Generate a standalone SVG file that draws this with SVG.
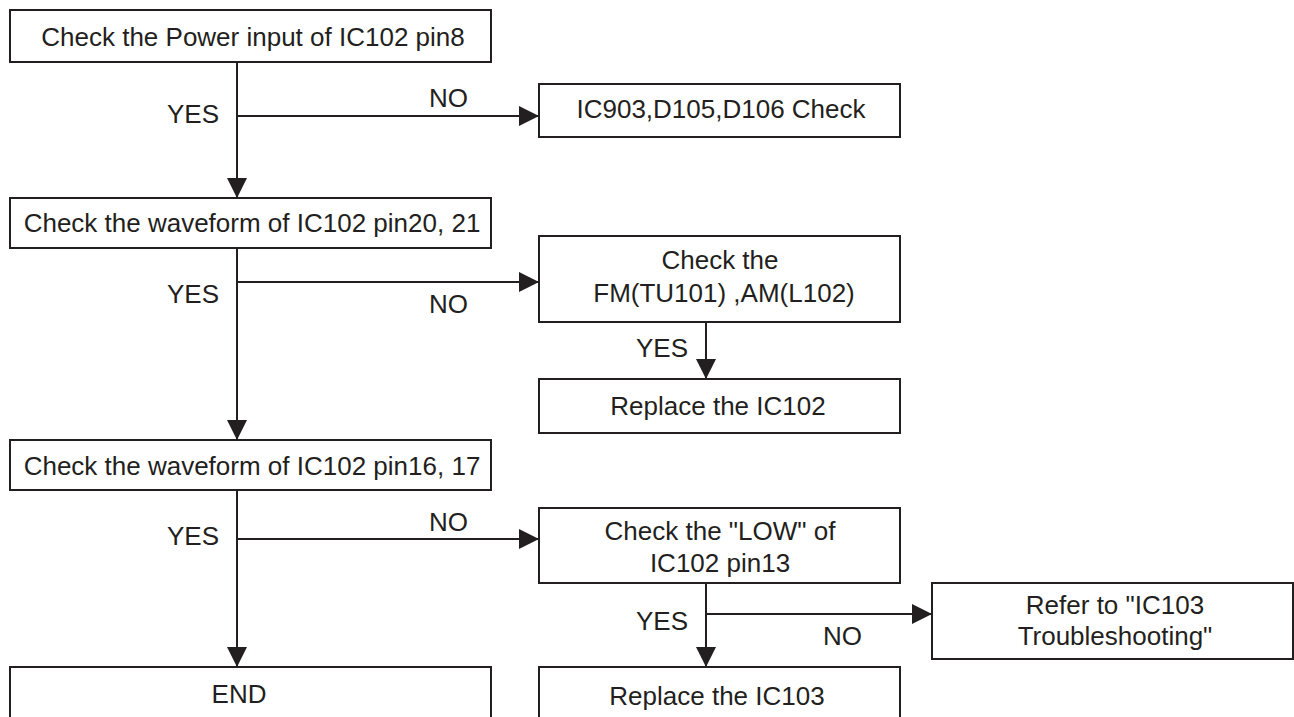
<svg xmlns="http://www.w3.org/2000/svg" width="1294" height="717" viewBox="0 0 1294 717">
<style>
  .box { fill: #ffffff; stroke: #231f20; stroke-width: 2; }
  .t { font-family: "Liberation Sans", Arial, sans-serif; font-size: 26px; fill: #231f20; }
  .c { text-anchor: middle; }
  .e { text-anchor: end; }
  .conn { stroke: #231f20; stroke-width: 2; fill: none; }
</style>
<defs>
  <marker id="arr" markerUnits="userSpaceOnUse" markerWidth="21" markerHeight="21" viewBox="0 0 21 21" refX="20" refY="10.5" orient="auto">
    <path d="M0,0.5 L20,10.5 L0,20.5 z" fill="#231f20"/>
  </marker>
</defs>
<rect width="1294" height="717" fill="#ffffff"/>

<g id="connectors">
  <line class="conn" x1="237" y1="62" x2="237" y2="198" marker-end="url(#arr)"/>
  <line class="conn" x1="237" y1="116" x2="539" y2="116" marker-end="url(#arr)"/>
  <line class="conn" x1="237" y1="248" x2="237" y2="440" marker-end="url(#arr)"/>
  <line class="conn" x1="237" y1="282" x2="539" y2="282" marker-end="url(#arr)"/>
  <line class="conn" x1="706" y1="322" x2="706" y2="379" marker-end="url(#arr)"/>
  <line class="conn" x1="237" y1="490" x2="237" y2="667" marker-end="url(#arr)"/>
  <line class="conn" x1="237" y1="539" x2="539" y2="539" marker-end="url(#arr)"/>
  <line class="conn" x1="706" y1="583" x2="706" y2="667" marker-end="url(#arr)"/>
  <line class="conn" x1="706" y1="614" x2="932" y2="614" marker-end="url(#arr)"/>
  <text class="t e" x="219" y="123">YES</text>
  <text class="t" x="429" y="107">NO</text>
  <text class="t e" x="219" y="303">YES</text>
  <text class="t" x="429" y="313">NO</text>
  <text class="t e" x="688" y="357">YES</text>
  <text class="t e" x="219" y="545">YES</text>
  <text class="t" x="429" y="531">NO</text>
  <text class="t e" x="688" y="630">YES</text>
  <text class="t" x="823" y="645">NO</text>
</g>

<g id="n1">
  <rect class="box" x="10" y="10" width="481" height="52"/>
  <text class="t c" x="253" y="46">Check the Power input of IC102 pin8</text>
</g>
<g id="n2">
  <rect class="box" x="539" y="84" width="361" height="53"/>
  <text class="t c" x="721" y="118">IC903,D105,D106 Check</text>
</g>
<g id="n3">
  <rect class="box" x="10" y="198" width="481" height="50"/>
  <text class="t c" x="252" y="232">Check the waveform of IC102 pin20, 21</text>
</g>
<g id="n4">
  <rect class="box" x="539" y="236" width="361" height="86"/>
  <text class="t c" x="720" y="269">Check the</text>
  <text class="t c" x="724" y="302">FM(TU101) ,AM(L102)</text>
</g>
<g id="n5">
  <rect class="box" x="539" y="379" width="361" height="54"/>
  <text class="t c" x="718" y="415">Replace the IC102</text>
</g>
<g id="n6">
  <rect class="box" x="10" y="440" width="481" height="50"/>
  <text class="t c" x="252" y="475">Check the waveform of IC102 pin16, 17</text>
</g>
<g id="n7">
  <rect class="box" x="539" y="508" width="361" height="75"/>
  <text class="t c" x="720" y="540">Check the "LOW" of</text>
  <text class="t c" x="720" y="572">IC102 pin13</text>
</g>
<g id="n8">
  <rect class="box" x="932" y="583" width="361" height="76"/>
  <text class="t c" x="1115" y="614">Refer to "IC103</text>
  <text class="t c" x="1115" y="645">Troubleshooting"</text>
</g>
<g id="n9">
  <rect class="box" x="10" y="667" width="481" height="60"/>
  <text class="t c" x="239" y="703">END</text>
</g>
<g id="n10">
  <rect class="box" x="539" y="667" width="361" height="60"/>
  <text class="t c" x="717" y="705">Replace the IC103</text>
</g>
</svg>
